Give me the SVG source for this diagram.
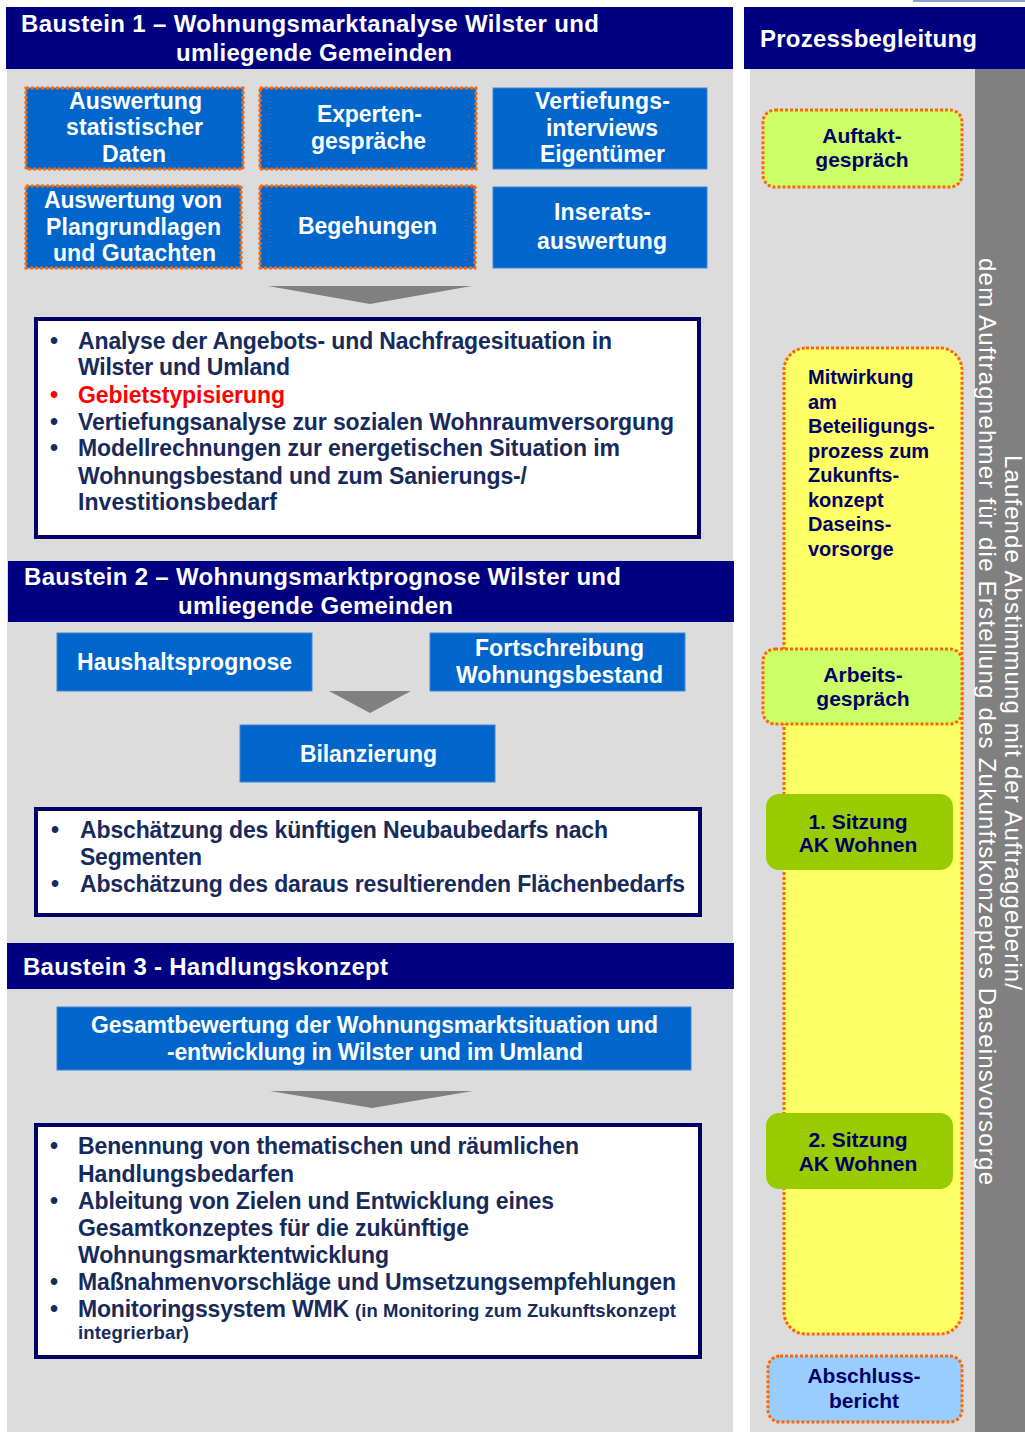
<svg xmlns="http://www.w3.org/2000/svg" width="1025" height="1432" viewBox="0 0 1025 1432">
<style>
.bg{fill:#dcdcdc}
.hdr{fill:#000080}
.ht{font-family:"Liberation Sans",Arial,sans-serif;font-weight:bold;fill:#ffffff;font-size:24px}
.bb{fill:#0066cc;stroke:#3f86d6;stroke-width:1}
.dot{fill:none;stroke:#ff6600;stroke-width:3;stroke-dasharray:3 2}
.bt{font-family:"Liberation Sans",Arial,sans-serif;font-weight:bold;fill:#ffffff;font-size:23px}
.wb{fill:#ffffff;stroke:#000066;stroke-width:4}
.lt{font-family:"Liberation Sans",Arial,sans-serif;font-weight:bold;fill:#172a5c;font-size:23px}
.sm{font-size:18.5px}
.red{fill:#ff0000}
.rt{font-family:"Liberation Sans",Arial,sans-serif;font-weight:bold;fill:#000066;font-size:21px;text-anchor:middle}
.rl{font-family:"Liberation Sans",Arial,sans-serif;font-weight:bold;fill:#000066;font-size:20px}
.arr{fill:#808080}
.vt{font-family:"Liberation Sans",Arial,sans-serif;fill:#ffffff;font-size:24px}
</style>
<rect width="1025" height="1432" fill="#ffffff"/>
<rect x="913" y="0" width="112" height="2" fill="#8da0c8"/>
<!-- left panel -->
<rect class="bg" x="7" y="69" width="726" height="1363"/>
<!-- right panel -->
<rect class="bg" x="750" y="69" width="225" height="1363"/>
<rect x="975" y="69" width="50" height="1363" fill="#808080"/>

<g id="header1">
<rect class="hdr" x="6" y="7" width="727" height="62"/>
<text class="ht" x="21" y="32" textLength="578">Baustein 1 – Wohnungsmarktanalyse Wilster und</text>
<text class="ht" x="176" y="61" textLength="276">umliegende Gemeinden</text>
</g>
<g id="header-prozess">
<rect class="hdr" x="744" y="7" width="281" height="62"/>
<text class="ht" x="760" y="47" textLength="217">Prozessbegleitung</text>
</g>

<g id="box-statistik">
<rect class="bb" x="26" y="88" width="217" height="81"/>
<rect class="dot" x="26" y="88" width="217" height="81"/>
<text class="bt" x="69" y="109" textLength="133">Auswertung</text>
<text class="bt" x="66" y="135" textLength="137">statistischer</text>
<text class="bt" x="102" y="162" textLength="64">Daten</text>
</g>
<g id="box-experten">
<rect class="bb" x="260" y="88" width="216" height="81"/>
<rect class="dot" x="260" y="88" width="216" height="81"/>
<text class="bt" x="317" y="122" textLength="105">Experten-</text>
<text class="bt" x="311" y="149" textLength="115">gespräche</text>
</g>
<g id="box-vertiefung">
<rect class="bb" x="493" y="88" width="214" height="81"/>
<text class="bt" x="535" y="109" textLength="135">Vertiefungs-</text>
<text class="bt" x="546" y="136" textLength="112">interviews</text>
<text class="bt" x="540" y="162" textLength="125">Eigentümer</text>
</g>
<g id="box-plangrundlagen">
<rect class="bb" x="26" y="186" width="215" height="82"/>
<rect class="dot" x="26" y="186" width="215" height="82"/>
<text class="bt" x="44" y="208" textLength="178">Auswertung von</text>
<text class="bt" x="46" y="235" textLength="175">Plangrundlagen</text>
<text class="bt" x="53" y="261" textLength="163">und Gutachten</text>
</g>
<g id="box-begehungen">
<rect class="bb" x="260" y="186" width="215" height="82"/>
<rect class="dot" x="260" y="186" width="215" height="82"/>
<text class="bt" x="298" y="234" textLength="139">Begehungen</text>
</g>
<g id="box-inserate">
<rect class="bb" x="493" y="187" width="214" height="81"/>
<text class="bt" x="554" y="220" textLength="97">Inserats-</text>
<text class="bt" x="537" y="249" textLength="130">auswertung</text>
</g>

<g id="result1">
<rect class="wb" x="36" y="319" width="663" height="218"/>
<text class="lt" x="50" y="349">•</text>
<text class="lt" x="78" y="349" textLength="534">Analyse der Angebots- und Nachfragesituation in</text>
<text class="lt" x="78" y="375" textLength="212">Wilster und Umland</text>
<text class="lt red" x="50" y="403">•</text>
<text class="lt red" x="78" y="403" textLength="207">Gebietstypisierung</text>
<text class="lt" x="50" y="430">•</text>
<text class="lt" x="78" y="430" textLength="596">Vertiefungsanalyse zur sozialen Wohnraumversorgung</text>
<text class="lt" x="50" y="456">•</text>
<text class="lt" x="78" y="456" textLength="542">Modellrechnungen zur energetischen Situation im</text>
<text class="lt" x="78" y="484" textLength="449">Wohnungsbestand und zum Sanierungs-/</text>
<text class="lt" x="78" y="510" textLength="199">Investitionsbedarf</text>
</g>

<g id="header2">
<rect class="hdr" x="8" y="561" width="726" height="61"/>
<text class="ht" x="24" y="585" textLength="597">Baustein 2 – Wohnungsmarktprognose Wilster und</text>
<text class="ht" x="178" y="614" textLength="275">umliegende Gemeinden</text>
</g>
<g id="box-haushalt">
<rect class="bb" x="57" y="633" width="255" height="58"/>
<text class="bt" x="77" y="670" textLength="215">Haushaltsprognose</text>
</g>
<g id="box-fortschreibung">
<rect class="bb" x="430" y="633" width="255" height="58"/>
<text class="bt" x="475" y="656" textLength="169">Fortschreibung</text>
<text class="bt" x="456" y="683" textLength="207">Wohnungsbestand</text>
</g>
<g id="box-bilanzierung">
<rect class="bb" x="240" y="725" width="255" height="57"/>
<text class="bt" x="300" y="762" textLength="137">Bilanzierung</text>
</g>
<g id="result2">
<rect class="wb" x="36" y="809" width="664" height="106"/>
<text class="lt" x="51" y="838">•</text>
<text class="lt" x="80" y="838" textLength="528">Abschätzung des künftigen Neubaubedarfs nach</text>
<text class="lt" x="80" y="865" textLength="122">Segmenten</text>
<text class="lt" x="51" y="892">•</text>
<text class="lt" x="80" y="892" textLength="605">Abschätzung des daraus resultierenden Flächenbedarfs</text>
</g>

<g id="header3">
<rect class="hdr" x="7" y="943" width="727" height="46"/>
<text class="ht" x="23" y="975" textLength="365">Baustein 3 - Handlungskonzept</text>
</g>
<g id="box-gesamtbewertung">
<rect class="bb" x="57" y="1007" width="634" height="63"/>
<text class="bt" x="91" y="1033" textLength="567">Gesamtbewertung der Wohnungsmarktsituation und</text>
<text class="bt" x="167" y="1060" textLength="416">-entwicklung in Wilster und im Umland</text>
</g>
<g id="result3">
<rect class="wb" x="36" y="1125" width="664" height="232"/>
<text class="lt" x="50" y="1154">•</text>
<text class="lt" x="78" y="1154" textLength="501">Benennung von thematischen und räumlichen</text>
<text class="lt" x="78" y="1182" textLength="216">Handlungsbedarfen</text>
<text class="lt" x="50" y="1209">•</text>
<text class="lt" x="78" y="1209" textLength="476">Ableitung von Zielen und Entwicklung eines</text>
<text class="lt" x="78" y="1236" textLength="391">Gesamtkonzeptes für die zukünftige</text>
<text class="lt" x="78" y="1263" textLength="311">Wohnungsmarktentwicklung</text>
<text class="lt" x="50" y="1290">•</text>
<text class="lt" x="78" y="1290" textLength="598">Maßnahmenvorschläge und Umsetzungsempfehlungen</text>
<text class="lt" x="50" y="1317">•</text>
<text class="lt" x="78" y="1317" textLength="271">Monitoringssystem WMK</text>
<text class="lt sm" x="355" y="1317" textLength="321">(in Monitoring zum Zukunftskonzept</text>
<text class="lt sm" x="78" y="1339" textLength="111">integrierbar)</text>
</g>

<g id="connectors">
<polygon class="arr" points="268,286 472,286 370,304"/>
<polygon class="arr" points="329,691 411,691 370,713"/>
<polygon class="arr" points="270,1091 473,1091 372,1108"/>
</g>

<g id="box-mitwirkung">
<rect x="784" y="348" width="178" height="986" rx="22" fill="#ffff66"/>
<rect class="dot" x="784" y="348" width="178" height="986" rx="22"/>
<text class="rl" x="808" y="384">Mitwirkung</text>
<text class="rl" x="808" y="409">am</text>
<text class="rl" x="808" y="433">Beteiligungs-</text>
<text class="rl" x="808" y="458">prozess zum</text>
<text class="rl" x="808" y="482">Zukunfts-</text>
<text class="rl" x="808" y="507">konzept</text>
<text class="rl" x="808" y="531">Daseins-</text>
<text class="rl" x="808" y="556">vorsorge</text>
</g>
<g id="box-auftakt">
<rect x="763" y="110" width="199" height="77" rx="12" fill="#ccff66"/>
<rect class="dot" x="763" y="110" width="199" height="77" rx="12"/>
<text class="rt" x="862" y="143">Auftakt-</text>
<text class="rt" x="862" y="167">gespräch</text>
</g>
<g id="box-arbeitsgespraech">
<rect x="763" y="649" width="199" height="75" rx="12" fill="#ccff66"/>
<rect class="dot" x="763" y="649" width="199" height="75" rx="12"/>
<text class="rt" x="863" y="682">Arbeits-</text>
<text class="rt" x="863" y="706">gespräch</text>
</g>
<g id="box-sitzung1">
<rect x="766" y="794" width="187" height="76" rx="13" fill="#99cc00"/>
<text class="rt" x="858" y="829">1. Sitzung</text>
<text class="rt" x="858" y="852">AK Wohnen</text>
</g>
<g id="box-sitzung2">
<rect x="766" y="1113" width="187" height="76" rx="13" fill="#99cc00"/>
<text class="rt" x="858" y="1147">2. Sitzung</text>
<text class="rt" x="858" y="1171">AK Wohnen</text>
</g>
<g id="box-abschluss">
<rect x="768" y="1356" width="194" height="66" rx="12" fill="#99ccff"/>
<rect class="dot" x="768" y="1356" width="194" height="66" rx="12"/>
<text class="rt" x="864" y="1383">Abschluss-</text>
<text class="rt" x="864" y="1408">bericht</text>
</g>

<g id="laufende-abstimmung">
<text class="vt" transform="translate(1005,455) rotate(90)" textLength="535">Laufende Abstimmung mit der Auftraggeberin/</text>
<text class="vt" transform="translate(979,258) rotate(90)" textLength="927">dem Auftragnehmer für die Erstellung des Zukunftskonzeptes Daseinsvorsorge</text>
</g>
</svg>
